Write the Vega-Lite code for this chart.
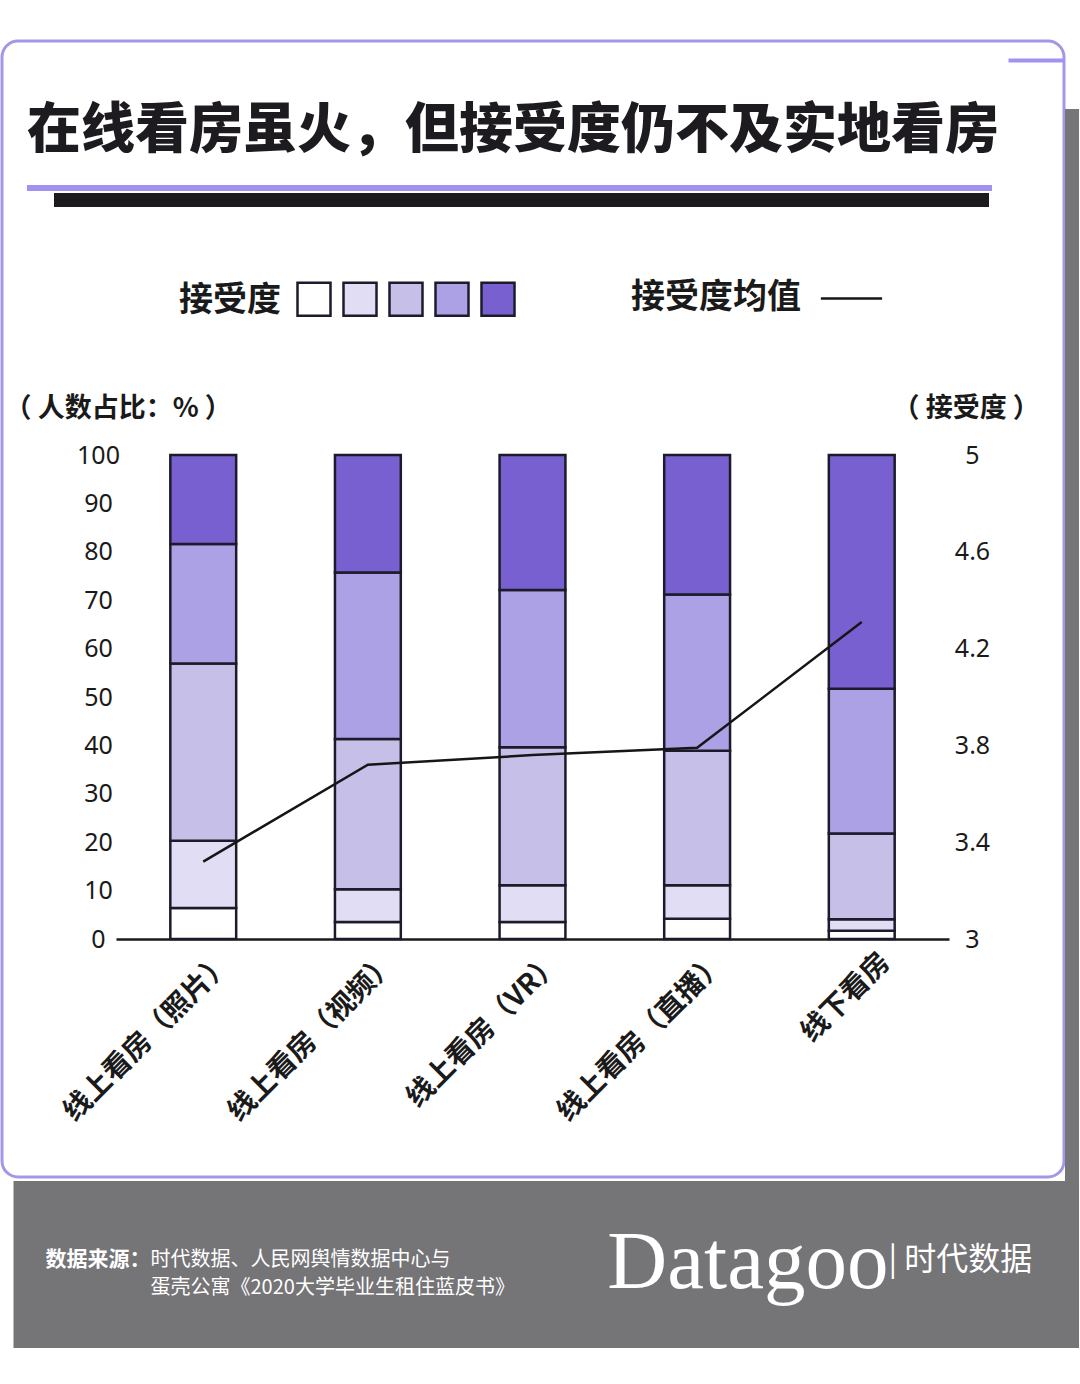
{
  "$schema": "https://vega.github.io/schema/vega-lite/v6.json",
  "background": "#ffffff",
  "padding": {"left": 2, "top": 41, "right": 0, "bottom": 37},
  "spacing": 0,
  "config": {
    "view": {"stroke": null},
    "font": "Noto Sans CJK SC"
  },
  "datasets": {
    "bars": [
      {"category": "线上看房（照片）", "level": 1, "pct": 6.4},
      {"category": "线上看房（照片）", "level": 2, "pct": 13.9},
      {"category": "线上看房（照片）", "level": 3, "pct": 36.6},
      {"category": "线上看房（照片）", "level": 4, "pct": 24.7},
      {"category": "线上看房（照片）", "level": 5, "pct": 18.4},
      {"category": "线上看房（视频）", "level": 1, "pct": 3.5},
      {"category": "线上看房（视频）", "level": 2, "pct": 6.8},
      {"category": "线上看房（视频）", "level": 3, "pct": 31.0},
      {"category": "线上看房（视频）", "level": 4, "pct": 34.4},
      {"category": "线上看房（视频）", "level": 5, "pct": 24.3},
      {"category": "线上看房（VR）", "level": 1, "pct": 3.5},
      {"category": "线上看房（VR）", "level": 2, "pct": 7.6},
      {"category": "线上看房（VR）", "level": 3, "pct": 28.5},
      {"category": "线上看房（VR）", "level": 4, "pct": 32.5},
      {"category": "线上看房（VR）", "level": 5, "pct": 27.9},
      {"category": "线上看房（直播）", "level": 1, "pct": 4.2},
      {"category": "线上看房（直播）", "level": 2, "pct": 6.9},
      {"category": "线上看房（直播）", "level": 3, "pct": 27.8},
      {"category": "线上看房（直播）", "level": 4, "pct": 32.3},
      {"category": "线上看房（直播）", "level": 5, "pct": 28.8},
      {"category": "线下看房", "level": 1, "pct": 1.7},
      {"category": "线下看房", "level": 2, "pct": 2.4},
      {"category": "线下看房", "level": 3, "pct": 17.7},
      {"category": "线下看房", "level": 4, "pct": 29.9},
      {"category": "线下看房", "level": 5, "pct": 48.3}
    ],
    "mean": [
      {"category": "线上看房（照片）", "score": 3.32},
      {"category": "线上看房（视频）", "score": 3.72},
      {"category": "线上看房（VR）", "score": 3.76},
      {"category": "线上看房（直播）", "score": 3.79},
      {"category": "线下看房", "score": 4.31}
    ],
    "footer": [
      {"part": "label", "slot": "src", "line": "1", "text": "数据来源："},
      {"part": "body", "slot": "src", "line": "1", "text": "时代数据、人民网舆情数据中心与"},
      {"part": "body", "slot": "src", "line": "2", "text": "蛋壳公寓《2020大学毕业生租住蓝皮书》"},
      {"part": "logo", "slot": "brand", "line": "2", "text": "Datagoo"},
      {"part": "brand", "slot": "brand", "line": "1", "text": "| 时代数据"}
    ]
  },
  "vconcat": [
    {
      "width": 833,
      "height": 484,
      "title": {
        "text": "在线看房虽火，但接受度仍不及实地看房",
        "anchor": "start",
        "frame": "group",
        "dx": -89,
        "offset": -118,
        "font": "Noto Sans CJK SC",
        "fontSize": 54,
        "fontWeight": 900,
        "color": "#1d1b1f"
      },
      "layer": [
        {
          "data": {"name": "bars"},
          "mark": {"type": "bar", "stroke": "#1c1b2b", "strokeWidth": 2.5},
          "encoding": {
            "x": {
              "field": "category",
              "type": "nominal",
              "sort": ["线上看房（照片）", "线上看房（视频）", "线上看房（VR）", "线上看房（直播）", "线下看房"],
              "scale": {"paddingInner": 0.6, "paddingOuter": 0.33},
              "axis": {
                "title": null,
                "orient": "bottom",
                "domain": true,
                "domainColor": "#1a1a1a",
                "domainWidth": 2.5,
                "ticks": false,
                "grid": false,
                "labelAngle": -45,
                "labelAlign": "right",
                "labelBaseline": "top",
                "labelFont": "Noto Sans CJK SC",
                "labelFontSize": 28,
                "labelFontWeight": "bold",
                "labelColor": "#1a1a1a",
                "labelPadding": 9,
                "labelOffset": 14,
                "labelLimit": 400
              }
            },
            "y": {
              "field": "pct",
              "type": "quantitative",
              "stack": "zero",
              "scale": {"domain": [0, 100], "nice": false},
              "axis": {
                "orient": "left",
                "values": [0, 10, 20, 30, 40, 50, 60, 70, 80, 90, 100],
                "domain": false,
                "ticks": false,
                "grid": false,
                "labelFont": "Noto Sans",
                "labelFontSize": 25,
                "labelColor": "#1a1a1a",
                "labelAlign": "center",
                "labelPadding": 18,
                "labelBaseline": "middle",
                "title": "（ 人数占比：% ）",
                "titleAngle": 0,
                "titleAlign": "left",
                "titleBaseline": "middle",
                "titleX": -112,
                "titleY": -47,
                "titleFont": "Noto Sans CJK SC",
                "titleFontSize": 27,
                "titleFontWeight": "bold",
                "titleColor": "#1a1a1a"
              }
            },
            "fill": {
              "field": "level",
              "type": "ordinal",
              "scale": {"domain": [1, 2, 3, 4, 5], "range": ["#ffffff", "#e1ddf4", "#c6c0e9", "#aca1e4", "#7860d0"]},
              "legend": {
                "orient": "none",
                "legendX": 63,
                "legendY": -174,
                "direction": "horizontal",
                "columns": 5,
                "title": "接受度",
                "titleOrient": "left",
                "titleAnchor": "middle",
                "titleBaseline": "middle",
                "titlePadding": 15,
                "titleFont": "Noto Sans CJK SC",
                "titleFontSize": 34,
                "titleFontWeight": "bold",
                "titleColor": "#1a1a1a",
                "symbolType": "square",
                "symbolSize": 1089,
                "symbolStrokeColor": "#1c1b2b",
                "symbolStrokeWidth": 2.5,
                "symbolOpacity": 1,
                "labelExpr": "''",
                "labelOffset": 0,
                "columnPadding": 2,
                "padding": 0
              }
            },
            "order": {"field": "level", "type": "ordinal", "sort": "ascending"}
          }
        },
        {
          "data": {"name": "mean"},
          "mark": {"type": "line", "strokeWidth": 2.5},
          "encoding": {
            "x": {
              "field": "category",
              "type": "nominal",
              "sort": ["线上看房（照片）", "线上看房（视频）", "线上看房（VR）", "线上看房（直播）", "线下看房"]
            },
            "y": {
              "field": "score",
              "type": "quantitative",
              "scale": {"domain": [3, 5], "nice": false, "zero": false},
              "axis": {
                "orient": "right",
                "values": [3, 3.4, 3.8, 4.2, 4.6, 5],
                "format": "~g",
                "domain": false,
                "ticks": false,
                "grid": false,
                "labelAlign": "center",
                "labelBaseline": "middle",
                "labelPadding": 23,
                "labelFont": "Noto Sans",
                "labelFontSize": 25,
                "labelColor": "#1a1a1a",
                "title": "（ 接受度 ）",
                "titleAngle": 0,
                "titleAlign": "left",
                "titleBaseline": "middle",
                "titleX": -57,
                "titleY": -47,
                "titleFont": "Noto Sans CJK SC",
                "titleFontSize": 27,
                "titleFontWeight": "bold",
                "titleColor": "#1a1a1a"
              }
            },
            "stroke": {
              "datum": "接受度均值",
              "type": "nominal",
              "scale": {"range": ["#161616"]},
              "legend": {
                "orient": "none",
                "legendX": 515,
                "legendY": -175,
                "title": "接受度均值",
                "titleOrient": "left",
                "titleAnchor": "middle",
                "titleBaseline": "middle",
                "titlePadding": 32,
                "titleFont": "Noto Sans CJK SC",
                "titleFontSize": 34,
                "titleFontWeight": "bold",
                "titleColor": "#1a1a1a",
                "symbolType": "M-1.8,0H1.8",
                "symbolSize": 1156,
                "symbolStrokeWidth": 2.5,
                "symbolStrokeColor": "#161616",
                "labelExpr": "''",
                "labelFontSize": 34,
                "labelOffset": 0,
                "padding": 0
              }
            }
          }
        },
        {
          "data": {"name": "bars"},
          "mark": {"type": "point", "opacity": 0, "size": 0},
          "encoding": {
            "fill": {
              "field": "pct",
              "type": "quantitative",
              "scale": {"range": ["#1d1b1e", "#1d1b1e"]},
              "legend": {
                "type": "gradient",
                "orient": "none",
                "direction": "horizontal",
                "legendX": -62,
                "legendY": -262,
                "gradientLength": 935,
                "gradientThickness": 14,
                "gradientStrokeWidth": 0,
                "title": null,
                "values": [],
                "labelExpr": "''",
                "padding": 0
              }
            },
            "stroke": {
              "field": "level",
              "type": "quantitative",
              "scale": {"range": ["#a291ee", "#a291ee"]},
              "legend": {
                "type": "gradient",
                "orient": "none",
                "direction": "horizontal",
                "legendX": -89,
                "legendY": -270,
                "gradientLength": 965,
                "gradientThickness": 6,
                "gradientStrokeWidth": 0,
                "title": null,
                "values": [],
                "labelExpr": "''",
                "padding": 0
              }
            }
          }
        },
        {
          "data": {"name": "mean"},
          "mark": {"type": "point", "opacity": 0, "size": 0},
          "encoding": {
            "fill": {
              "field": "score",
              "type": "quantitative",
              "scale": {"range": ["rgba(255,255,255,0)", "rgba(255,255,255,0)"]},
              "legend": {
                "type": "gradient",
                "orient": "none",
                "direction": "horizontal",
                "legendX": -114,
                "legendY": -414,
                "gradientLength": 1062,
                "gradientThickness": 1136,
                "gradientStrokeColor": "#a596e6",
                "gradientStrokeWidth": 3,
                "title": null,
                "values": [],
                "labelExpr": "''",
                "padding": 0,
                "encode": {"gradient": {"update": {"cornerRadius": {"value": 16}}}}
              }
            },
            "stroke": {
              "aggregate": "max",
              "field": "score",
              "type": "quantitative",
              "scale": {"range": ["#767578", "#767578"]},
              "legend": {
                "type": "gradient",
                "orient": "none",
                "direction": "vertical",
                "legendX": 949,
                "legendY": -346,
                "gradientLength": 1072,
                "gradientThickness": 14,
                "gradientStrokeWidth": 0,
                "title": null,
                "values": [],
                "labelExpr": "''",
                "padding": 0
              }
            }
          }
        },
        {
          "data": {"name": "bars"},
          "mark": {"type": "point", "opacity": 0, "size": 0},
          "encoding": {
            "fill": {
              "aggregate": "sum",
              "field": "pct",
              "type": "quantitative",
              "scale": {"range": ["#a291ee", "#a291ee"]},
              "legend": {
                "type": "gradient",
                "orient": "none",
                "direction": "horizontal",
                "legendX": 892.5,
                "legendY": -396.5,
                "gradientLength": 56,
                "gradientThickness": 4,
                "gradientStrokeWidth": 0,
                "title": null,
                "values": [],
                "labelExpr": "''",
                "padding": 0
              }
            }
          }
        }
      ],
      "resolve": {"scale": {"y": "independent", "fill": "independent", "stroke": "independent"}}
    },
    {
      "width": 963,
      "height": 167,
      "view": {"fill": "#757477", "stroke": null},
      "layer": [
        {
          "data": {"name": "mean"},
          "mark": {"type": "point", "opacity": 0, "size": 0},
          "encoding": {
            "y": {
              "field": "score",
              "type": "quantitative",
              "axis": {
                "orient": "left",
                "domain": true,
                "domainColor": "#757477",
                "domainWidth": 102.5,
                "domainCap": "butt",
                "offset": 51.25,
                "translate": 0,
                "ticks": false,
                "labels": false,
                "grid": false,
                "title": null
              }
            }
          }
        },
        {
          "data": {"name": "footer"},
          "encoding": {
            "x": {
              "field": "slot",
              "type": "nominal",
              "bandPosition": 0,
              "scale": {"type": "band", "domain": ["src", "brand"], "paddingInner": 0.78862, "paddingOuter": 0.046748},
              "axis": null
            },
            "y": {
              "field": "line",
              "type": "nominal",
              "scale": {"type": "band", "domain": ["1", "2"], "range": [64.5, 120.5], "paddingInner": 0, "paddingOuter": 0},
              "axis": null
            },
            "text": {"field": "text", "type": "nominal"}
          },
          "layer": [
            {
              "transform": [{"filter": "datum.part === 'label'"}],
              "mark": {"type": "text", "align": "right", "baseline": "middle", "font": "Noto Sans CJK SC", "fontSize": 21, "fontWeight": "bold", "color": "#ffffff"}
            },
            {
              "transform": [{"filter": "datum.part === 'body'"}],
              "mark": {"type": "text", "align": "left", "baseline": "middle", "font": "Noto Sans CJK SC", "fontSize": 20, "color": "#ffffff"}
            },
            {
              "transform": [{"filter": "datum.part === 'logo'"}],
              "mark": {"type": "text", "align": "right", "baseline": "alphabetic", "font": "Liberation Serif", "fontSize": 83, "color": "#ffffff"}
            },
            {
              "transform": [{"filter": "datum.part === 'brand'"}],
              "mark": {"type": "text", "align": "left", "baseline": "middle", "font": "Noto Sans CJK SC", "fontSize": 32, "color": "#ffffff"}
            }
          ]
        }
      ],
      "resolve": {"scale": {"y": "independent"}}
    }
  ]
}
